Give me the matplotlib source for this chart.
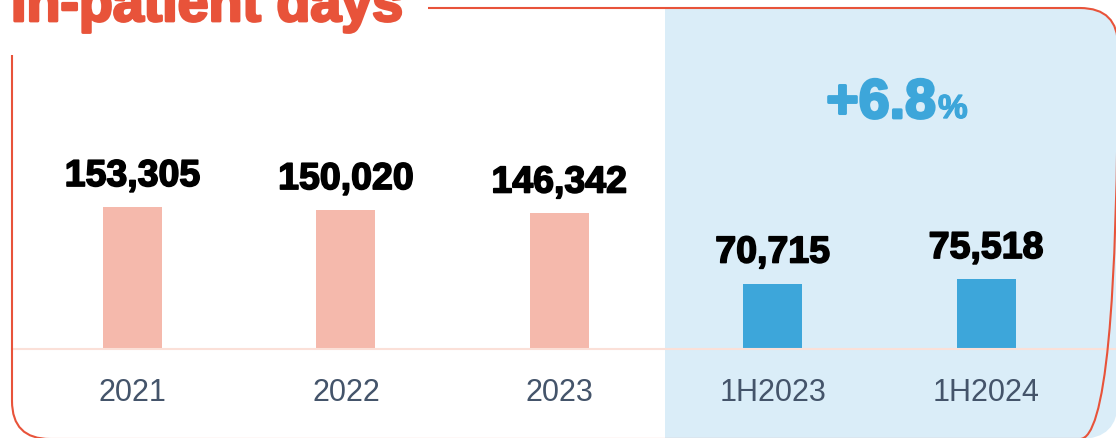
import matplotlib.pyplot as plt
import matplotlib.transforms as mtransforms
import matplotlib.patheffects as pe
from matplotlib.patches import FancyBboxPatch, Rectangle

# data
categories = ['2021', '2022', '2023', '1H2023', '1H2024']
values = [153305, 150020, 146342, 70715, 75518]
bar_colors = ['#F5B9AC', '#F5B9AC', '#F5B9AC', '#3DA6DA', '#3DA6DA']
growth = '+6.8'
title = 'In-patient days'

W, H = 1116, 439
fig = plt.figure(figsize=(W / 100, H / 100), dpi=100)
plt.rcParams['font.family'] = ['Liberation Sans', 'DejaVu Sans']

# pixel coords measured from the top-left corner
px = mtransforms.Affine2D().scale(1 / W, -1 / H).translate(0, 1) + fig.transFigure

red = '#E8533A'
box = FancyBboxPatch((12, 9), 1106, 431, boxstyle='round,pad=0,rounding_size=38',
                     transform=px, facecolor='none', edgecolor=red, lw=1.5, zorder=3)
fig.patches.append(box)

# light blue panel for the half-year figures, clipped to the rounded box
clip = FancyBboxPatch((12, 9), 1106, 431, boxstyle='round,pad=0,rounding_size=38',
                      transform=px, facecolor='none', edgecolor='none')
panel = Rectangle((665, 9), 460, 440, transform=px, facecolor='#DAEDF8',
                  edgecolor='none', zorder=-1)
panel.set_clip_path(clip)
fig.patches.append(panel)

# gap in the border behind the title
fig.patches.append(Rectangle((0, 0), 428, 56, transform=px, facecolor='white',
                             edgecolor='none', zorder=4))

ax = fig.add_axes([0, 0, 1, 1])
ax.patch.set_alpha(0)
k = 0.000926  # px per unit
base = 350
ax.set_ylim(-(H - base) / k, base / k)
step = 213.4
x0 = 132.5
ax.set_xlim(-x0 / step, (W - x0) / step)
ax.axis('off')

xs = range(len(categories))
ax.bar(xs, values, width=59 / step, color=bar_colors, zorder=2)
ax.axhline(0, xmin=12 / W, xmax=1, color='#FBE0D8', lw=1.5, zorder=3)

for i, v in zip(xs, values):
    ax.annotate(f'{v:,}', (i, v), xytext=(0, 21), textcoords='offset pixels',
                ha='center', va='baseline', fontsize=27, fontweight='bold', color='black',
                path_effects=[pe.withStroke(linewidth=1.2, foreground='black')])

lab_tr = mtransforms.blended_transform_factory(ax.transData, px)
for i, c in zip(xs, categories):
    ax.text(i, 401, c, transform=lab_tr, ha='center', va='baseline',
            fontsize=22, color='#44546A')

fig.text(11, 22, title, transform=px, ha='left', va='baseline', fontsize=40,
         fontweight='bold', color=red, zorder=5,
         path_effects=[pe.withStroke(linewidth=2, foreground=red)])

blue = '#3DA6DA'
fig.text(936, 119, growth, transform=px, ha='right', va='baseline', fontsize=40,
         fontweight='bold', color=blue,
         path_effects=[pe.withStroke(linewidth=2, foreground=blue)])
fig.text(938, 119, '%', transform=px, ha='left', va='baseline', fontsize=24,
         fontweight='bold', color=blue,
         path_effects=[pe.withStroke(linewidth=1, foreground=blue)])

fig.savefig('out.png', dpi=100)
